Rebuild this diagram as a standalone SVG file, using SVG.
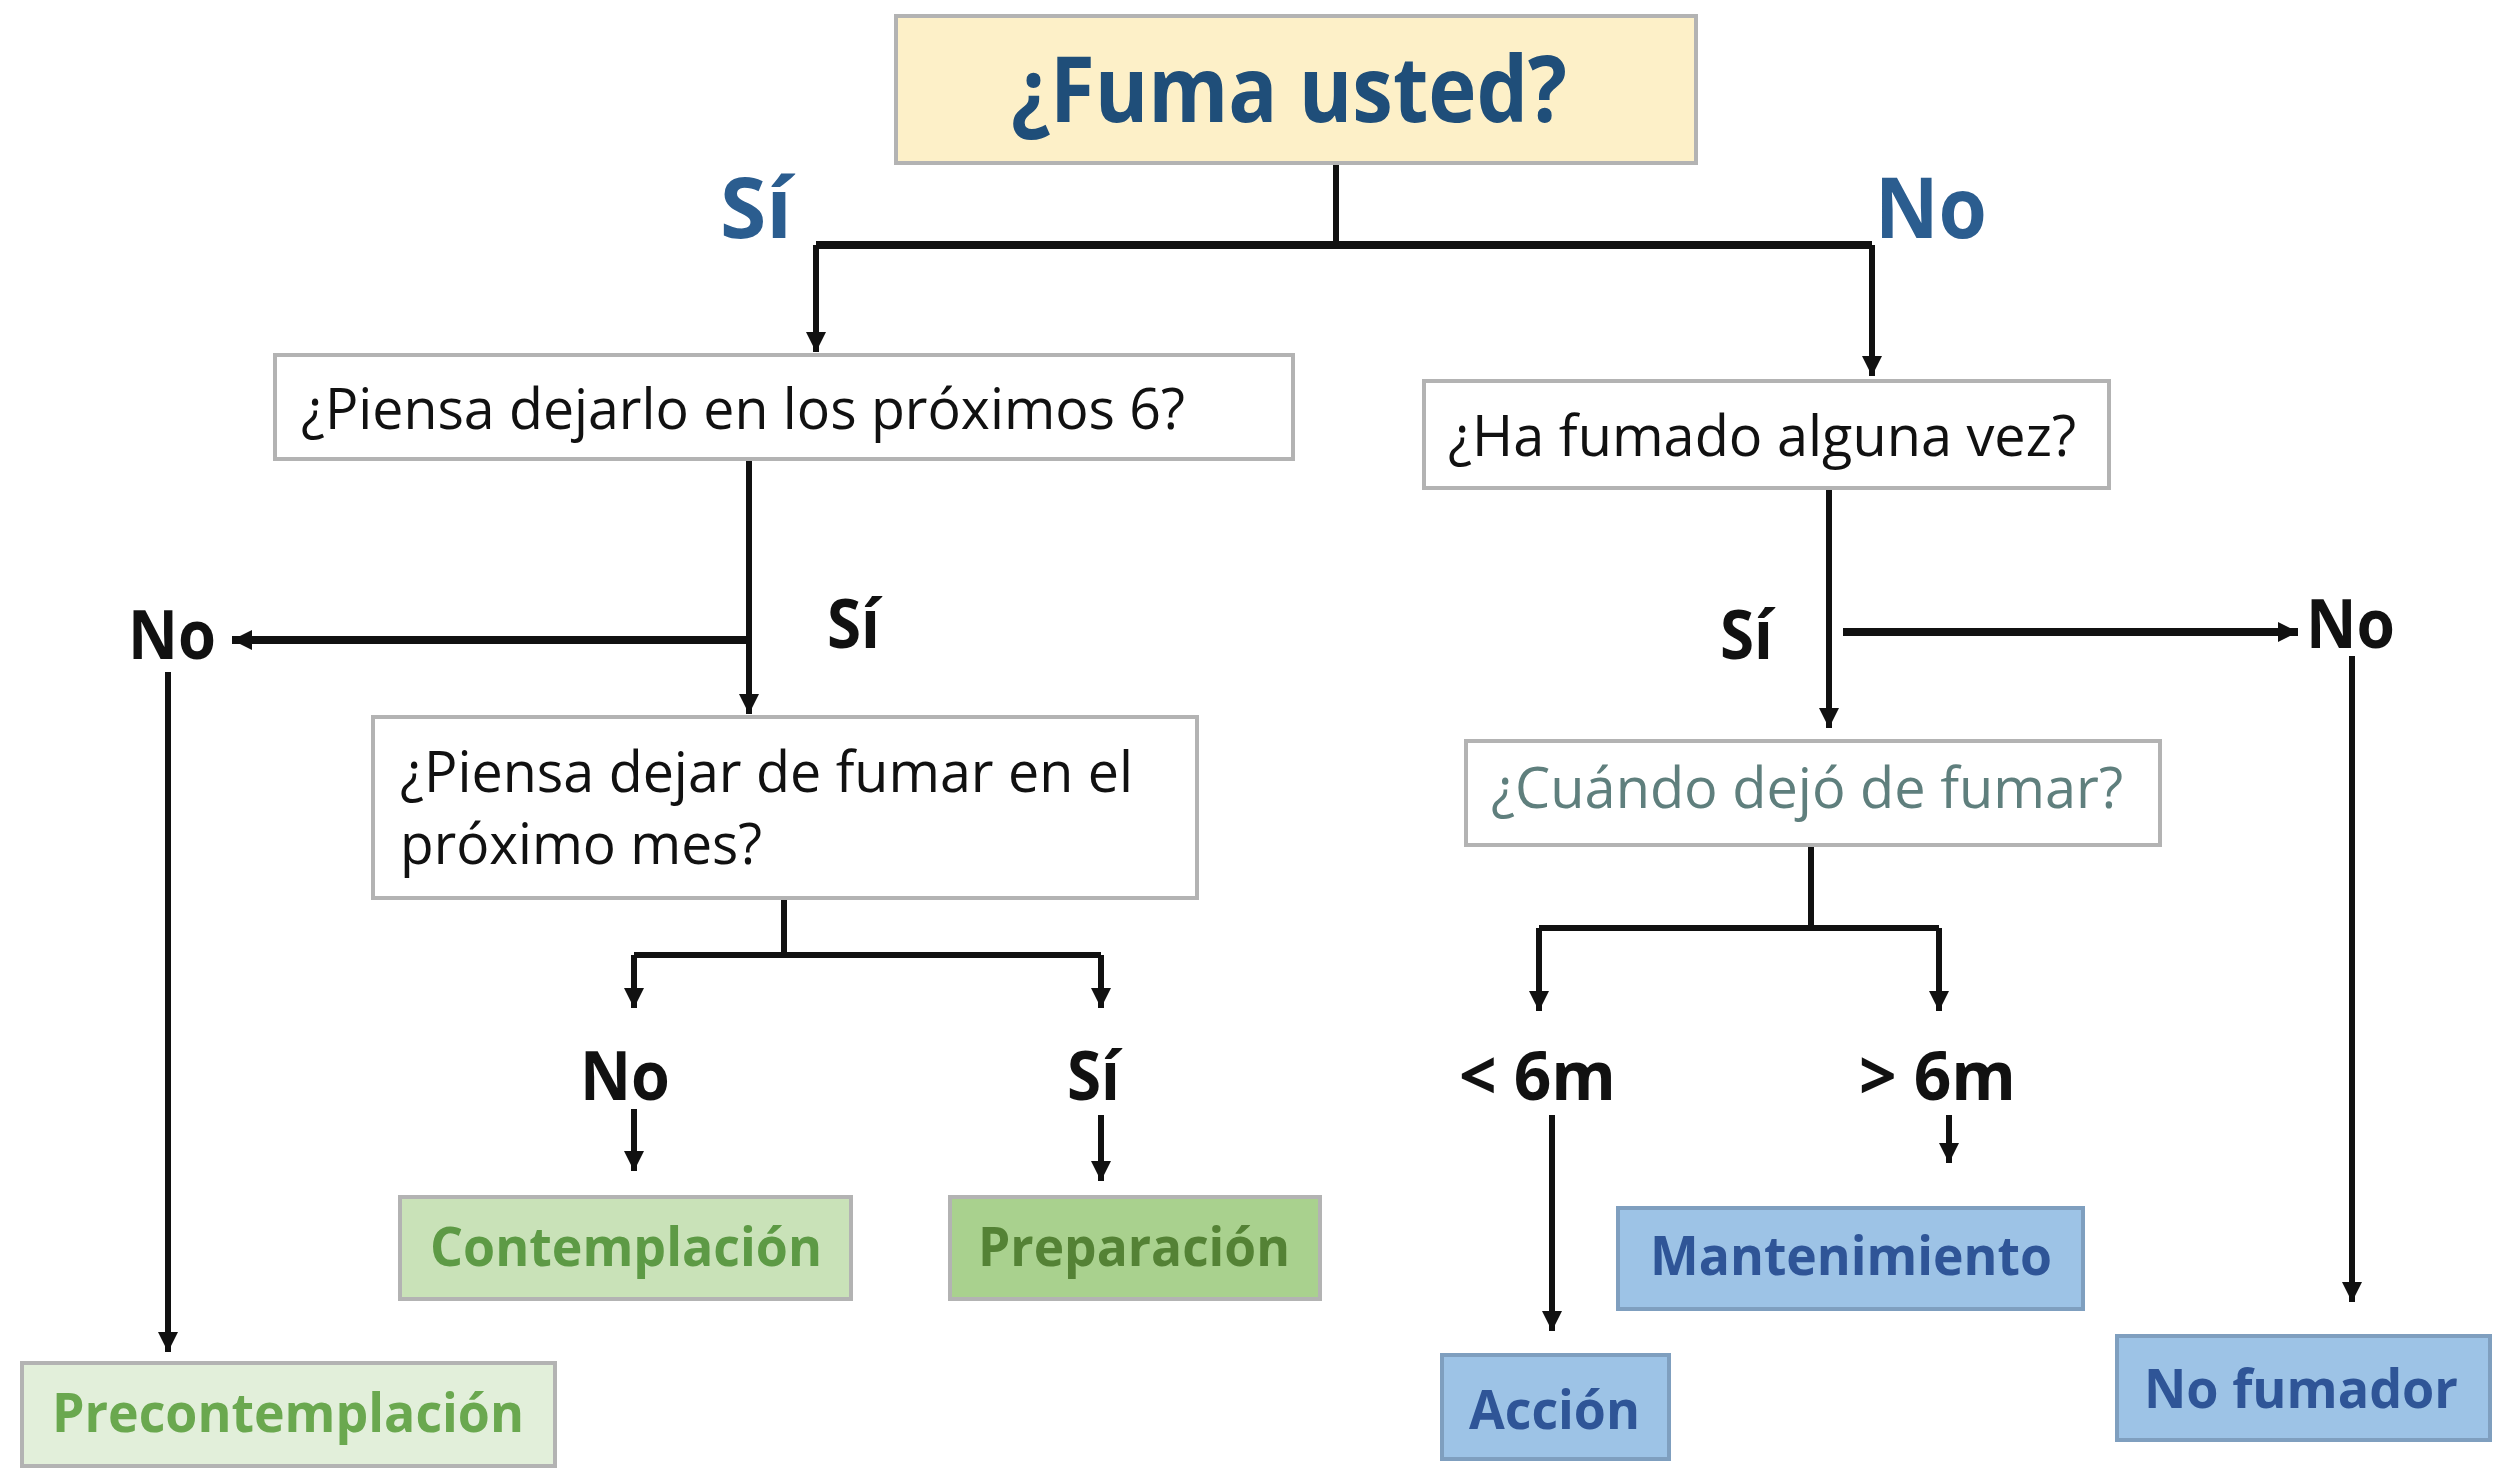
<svg xmlns="http://www.w3.org/2000/svg" width="2508" height="1475" viewBox="0 0 2508 1475">
<defs>
<marker id="ah" viewBox="0 0 10 10" refX="10" refY="5" markerUnits="userSpaceOnUse" markerWidth="20" markerHeight="20" orient="auto">
<path d="M0,0 L10,5 L0,10 z" fill="#111"/>
</marker>
<style>
.box{stroke:#b3b3b3;stroke-width:4}
.q{font-family:"Open Sans","Liberation Sans",sans-serif;font-size:56px;fill:#111}
.lbl{font-family:"Open Sans","Liberation Sans",sans-serif;font-weight:bold;font-size:68px;fill:#111}
.stage{font-family:"Open Sans","Liberation Sans",sans-serif;font-weight:bold;font-size:54px}
.ln{fill:none;stroke:#111;stroke-width:6}
.thick{stroke-width:8}
</style>
</defs>
<rect width="2508" height="1475" fill="#fff"/>

<g id="connectors">
<path class="ln" d="M1336,163 V245"/>
<path class="ln thick" d="M816,245 H1872"/>
<path class="ln" d="M816,245 V352" marker-end="url(#ah)"/>
<path class="ln" d="M1872,245 V376" marker-end="url(#ah)"/>
<path class="ln" d="M749,459 V714" marker-end="url(#ah)"/>
<path class="ln thick" d="M749,640 H232" marker-end="url(#ah)"/>
<path class="ln" d="M168,672 V1352" marker-end="url(#ah)"/>
<path class="ln" d="M784,898 V955"/>
<path class="ln" d="M634,955 H1101"/>
<path class="ln" d="M634,955 V1008" marker-end="url(#ah)"/>
<path class="ln" d="M1101,955 V1008" marker-end="url(#ah)"/>
<path class="ln" d="M634,1109 V1171" marker-end="url(#ah)"/>
<path class="ln" d="M1101,1115 V1181" marker-end="url(#ah)"/>
<path class="ln" d="M1829,488 V728" marker-end="url(#ah)"/>
<path class="ln thick" d="M1843,632 H2298" marker-end="url(#ah)"/>
<path class="ln" d="M2352,656 V1302" marker-end="url(#ah)"/>
<path class="ln" d="M1811,845 V928"/>
<path class="ln" d="M1539,928 H1939"/>
<path class="ln" d="M1539,928 V1011" marker-end="url(#ah)"/>
<path class="ln" d="M1939,928 V1011" marker-end="url(#ah)"/>
<path class="ln" d="M1552,1115 V1331" marker-end="url(#ah)"/>
<path class="ln" d="M1949,1115 V1163" marker-end="url(#ah)"/>
</g>

<g id="labels">
<text x="720" y="238" font-family="Open Sans, Liberation Sans, sans-serif" font-weight="bold" font-size="84" fill="#2b5d8f" textLength="72" lengthAdjust="spacingAndGlyphs">Sí</text>
<text x="1875" y="238" font-family="Open Sans, Liberation Sans, sans-serif" font-weight="bold" font-size="84" fill="#2b5d8f" textLength="112" lengthAdjust="spacingAndGlyphs">No</text>
<text class="lbl" x="128" y="659" textLength="88" lengthAdjust="spacingAndGlyphs">No</text>
<text class="lbl" x="827" y="648" textLength="53" lengthAdjust="spacingAndGlyphs">Sí</text>
<text class="lbl" x="1720" y="659" textLength="53" lengthAdjust="spacingAndGlyphs">Sí</text>
<text class="lbl" x="2306" y="648" textLength="89" lengthAdjust="spacingAndGlyphs">No</text>
<text class="lbl" x="580" y="1100" textLength="90" lengthAdjust="spacingAndGlyphs">No</text>
<text class="lbl" x="1067" y="1100" textLength="53" lengthAdjust="spacingAndGlyphs">Sí</text>
<text class="lbl" x="1459" y="1100" textLength="157" lengthAdjust="spacingAndGlyphs">&lt; 6m</text>
<text class="lbl" x="1859" y="1100" textLength="157" lengthAdjust="spacingAndGlyphs">&gt; 6m</text>
</g>

<g id="n-fuma">
<rect class="box" x="896" y="16" width="800" height="147" fill="#fdf0c8"/>
<text x="1011" y="122" font-family="Open Sans, Liberation Sans, sans-serif" font-weight="bold" font-size="92" fill="#1f4e79" textLength="556" lengthAdjust="spacingAndGlyphs">¿Fuma usted?</text>
</g>

<g id="n-piensa6">
<rect class="box" x="275" y="355" width="1018" height="104" fill="#fff"/>
<text class="q" x="301" y="429" textLength="884" lengthAdjust="spacingAndGlyphs">¿Piensa dejarlo en los próximos 6?</text>
</g>

<g id="n-hafumado">
<rect class="box" x="1424" y="381" width="685" height="107" fill="#fff"/>
<text class="q" x="1448" y="456" textLength="628" lengthAdjust="spacingAndGlyphs">¿Ha fumado alguna vez?</text>
</g>

<g id="n-piensames">
<rect class="box" x="373" y="717" width="824" height="181" fill="#fff"/>
<text class="q" x="400" y="792" textLength="733" lengthAdjust="spacingAndGlyphs">¿Piensa dejar de fumar en el</text>
<text class="q" x="400" y="864" textLength="362" lengthAdjust="spacingAndGlyphs">próximo mes?</text>
</g>

<g id="n-cuando">
<rect class="box" x="1466" y="741" width="694" height="104" fill="#fff"/>
<text class="q" x="1491" y="808" fill="#5f7f7d" style="fill:#5f7f7d" textLength="632" lengthAdjust="spacingAndGlyphs">¿Cuándo dejó de fumar?</text>
</g>

<g id="n-precontemplacion">
<rect class="box" x="22" y="1363" width="533" height="103" fill="#e2efda"/>
<text class="stage" x="52" y="1432" fill="#6aa84f" textLength="472" lengthAdjust="spacingAndGlyphs">Precontemplación</text>
</g>

<g id="n-contemplacion">
<rect class="box" x="400" y="1197" width="451" height="102" fill="#c9e2b8"/>
<text class="stage" x="430" y="1266" fill="#5d9a45" textLength="392" lengthAdjust="spacingAndGlyphs">Contemplación</text>
</g>

<g id="n-preparacion">
<rect class="box" x="950" y="1197" width="370" height="102" fill="#a9d18e"/>
<text class="stage" x="978" y="1266" fill="#548235" textLength="312" lengthAdjust="spacingAndGlyphs">Preparación</text>
</g>

<g id="n-mantenimiento">
<rect class="box" x="1618" y="1208" width="465" height="101" fill="#9dc3e6" style="stroke:#7f9fbf"/>
<text class="stage" x="1650" y="1275" fill="#2f5597" textLength="402" lengthAdjust="spacingAndGlyphs">Mantenimiento</text>
</g>

<g id="n-accion">
<rect class="box" x="1442" y="1355" width="227" height="104" fill="#9dc3e6" style="stroke:#7f9fbf"/>
<text class="stage" x="1469" y="1429" fill="#2f5597" textLength="171" lengthAdjust="spacingAndGlyphs">Acción</text>
</g>

<g id="n-nofumador">
<rect class="box" x="2117" y="1336" width="373" height="104" fill="#9dc3e6" style="stroke:#7f9fbf"/>
<text class="stage" x="2144" y="1408" fill="#2f5597" textLength="314" lengthAdjust="spacingAndGlyphs">No fumador</text>
</g>
</svg>
